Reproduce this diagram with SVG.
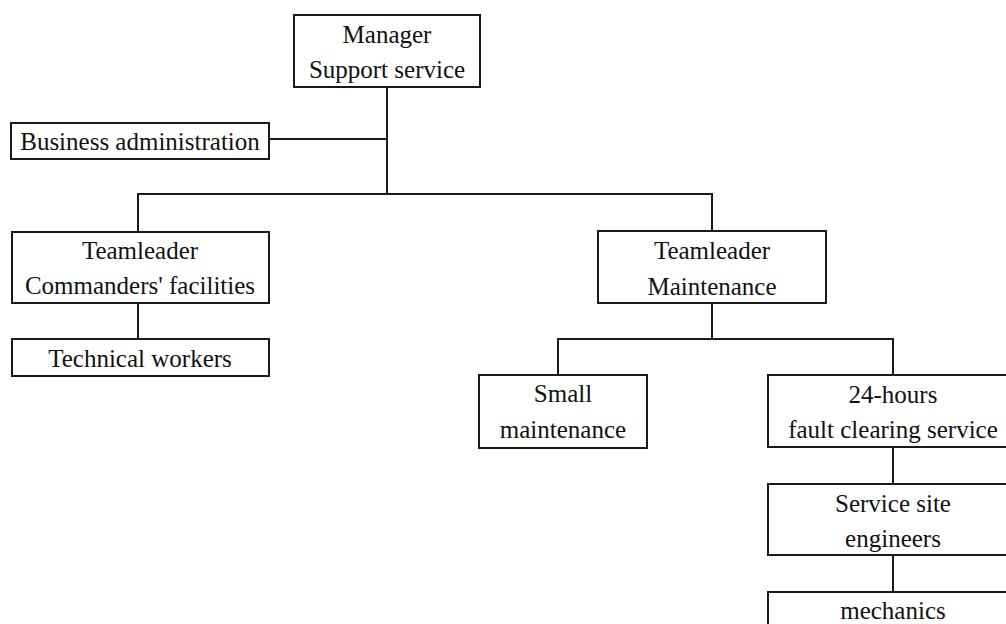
<svg xmlns="http://www.w3.org/2000/svg" width="1006" height="624" viewBox="0 0 1006 624">
  <style>
    .box { fill: #ffffff; stroke: #1a1a1a; stroke-width: 2; }
    .wire { fill: none; stroke: #1a1a1a; stroke-width: 2; }
    .lbl { font-family: "Liberation Serif", "Times New Roman", serif; font-size: 25px; fill: #111111; text-anchor: middle; }
  </style>
  <rect width="1006" height="624" fill="#ffffff"/>

  <!-- connectors -->
  <g id="connectors">
    <path class="wire" d="M387 87 V194"/>
    <path class="wire" d="M269 139 H387"/>
    <path class="wire" d="M138 232 V194 H712 V231"/>
    <path class="wire" d="M138 303 V339"/>
    <path class="wire" d="M712 303 V339"/>
    <path class="wire" d="M558 375 V339 H893 V375"/>
    <path class="wire" d="M893 447 V484"/>
    <path class="wire" d="M893 555 V592"/>
  </g>

  <g id="manager">
    <rect class="box" x="294" y="15" width="186" height="72"/>
    <text class="lbl" x="387" y="43">Manager</text>
    <text class="lbl" x="387" y="78">Support service</text>
  </g>

  <g id="business-admin">
    <rect class="box" x="11" y="123" width="258" height="36"/>
    <text class="lbl" x="140" y="150">Business administration</text>
  </g>

  <g id="teamleader-commanders">
    <rect class="box" x="12" y="232" width="257" height="71"/>
    <text class="lbl" x="140" y="259">Teamleader</text>
    <text class="lbl" x="140" y="294">Commanders' facilities</text>
  </g>

  <g id="technical-workers">
    <rect class="box" x="12" y="339" width="257" height="37"/>
    <text class="lbl" x="140" y="367">Technical workers</text>
  </g>

  <g id="teamleader-maintenance">
    <rect class="box" x="598" y="231" width="228" height="72"/>
    <text class="lbl" x="712" y="259">Teamleader</text>
    <text class="lbl" x="712" y="295">Maintenance</text>
  </g>

  <g id="small-maintenance">
    <rect class="box" x="479" y="375" width="168" height="73"/>
    <text class="lbl" x="563" y="402">Small</text>
    <text class="lbl" x="563" y="438">maintenance</text>
  </g>

  <g id="fault-clearing">
    <rect class="box" x="768" y="375" width="250" height="72"/>
    <text class="lbl" x="893" y="403">24-hours</text>
    <text class="lbl" x="893" y="438">fault clearing service</text>
  </g>

  <g id="site-engineers">
    <rect class="box" x="768" y="484" width="250" height="71"/>
    <text class="lbl" x="893" y="512">Service site</text>
    <text class="lbl" x="893" y="547">engineers</text>
  </g>

  <g id="mechanics">
    <rect class="box" x="768" y="592" width="250" height="72"/>
    <text class="lbl" x="893" y="619">mechanics</text>
  </g>
</svg>
